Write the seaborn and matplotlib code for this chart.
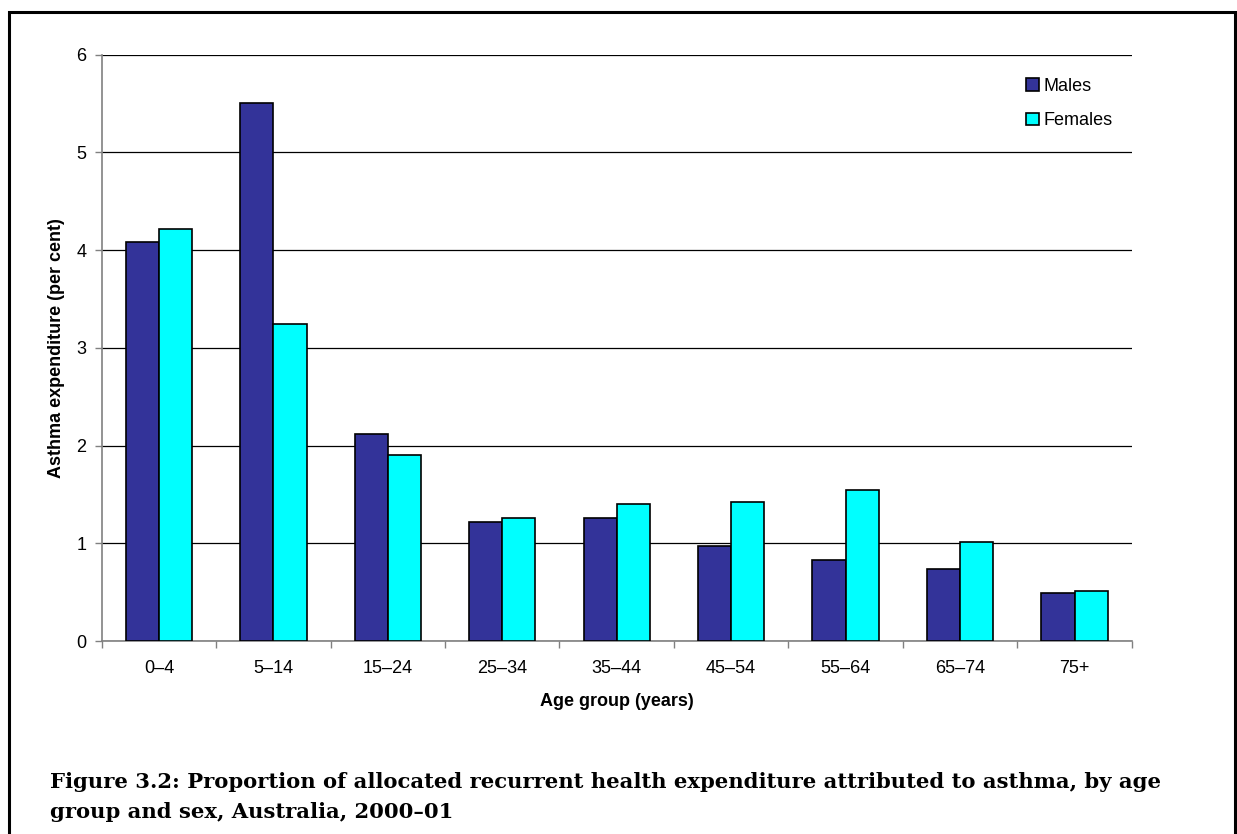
import numpy as np
import pandas as pd
import matplotlib
matplotlib.use("Agg")
import matplotlib.pyplot as plt
import seaborn as sns
from matplotlib.patches import Rectangle

## data
age_groups = ["0–4", "5–14", "15–24", "25–34", "35–44", "45–54", "55–64", "65–74", "75+"]
males = [4.08, 5.51, 2.12, 1.22, 1.26, 0.97, 0.83, 0.74, 0.49]
females = [4.22, 3.24, 1.90, 1.26, 1.40, 1.42, 1.55, 1.01, 0.51]
sexes = ["Males", "Females"]
colours = ["#333399", "#00FFFF"]
y_ticks = [0, 1, 2, 3, 4, 5, 6]

df = pd.DataFrame({
    "age": age_groups * 2,
    "value": males + females,
    "sex": ["Males"] * len(males) + ["Females"] * len(females),
})

sns.set_style("white")
plt.rcParams['font.family'] = ['Liberation Sans', 'DejaVu Sans']
plt.rcParams['text.color'] = "black"
plt.rcParams['axes.labelcolor'] = "black"

fig = plt.figure(figsize=(12.37, 8.34), dpi=100)
ax = fig.add_axes([0.0822, 0.2314, 0.8327, 0.7030])

sns.barplot(data=df, x="age", y="value", hue="sex", order=age_groups, hue_order=sexes,
            palette=colours, width=0.58, gap=0, edgecolor="black", linewidth=1.2,
            saturation=1, ax=ax, zorder=3)

#******************axes***********************
ax.set_ylim(0, 6)
ax.set_xlim(-0.5, len(age_groups) - 0.5)
ax.set_yticks(y_ticks)
ax.yaxis.grid(True, color="black", linewidth=0.9, zorder=0)
ax.set_axisbelow(True)
for s in ["top", "right"]:
    ax.spines[s].set_visible(False)
for s in ["left", "bottom"]:
    ax.spines[s].set_color("#808080")
    ax.spines[s].set_linewidth(1.2)

ax.tick_params(axis="y", which="major", direction="out", length=5, width=1, color="#808080",
               labelcolor="black", labelsize=13, pad=6, left=True)
ax.tick_params(axis="x", which="major", length=0, labelsize=13, pad=14, labelcolor="black")
ax.set_xticks(np.arange(-0.5, len(age_groups), 1.0), minor=True)
ax.tick_params(axis="x", which="minor", direction="out", length=5, width=1, color="#808080", bottom=True)

ax.set_xlabel("Age group (years)", fontsize=13, fontweight="bold", labelpad=11)
ax.set_ylabel("Asthma expenditure (per cent)", fontsize=13, fontweight="bold", labelpad=8)

leg = ax.legend(loc="upper left", bbox_to_anchor=(0.882, 0.988), frameon=False, fontsize=13,
                handlelength=0.7, handleheight=0.7, handletextpad=0.25, labelspacing=0.95)
for h in leg.legend_handles:
    h.set_edgecolor("black")
    h.set_linewidth(1.2)

#******************caption and border***********************
fig.text(50 / 1237, 1 - 797 / 834,
         "Figure 3.2: Proportion of allocated recurrent health expenditure attributed to asthma, by age\n"
         "group and sex, Australia, 2000–01",
         fontsize=15.2, fontweight="bold", family=["DejaVu Serif"],
         va="center", ha="left", linespacing=1.6)

border = Rectangle((9 / 1237, -0.05), 1226 / 1237, 1.05 - 12 / 834, transform=fig.transFigure,
                   fill=False, edgecolor="black", linewidth=2.2)
fig.patches.append(border)

fig.savefig("out.png", dpi=100)
